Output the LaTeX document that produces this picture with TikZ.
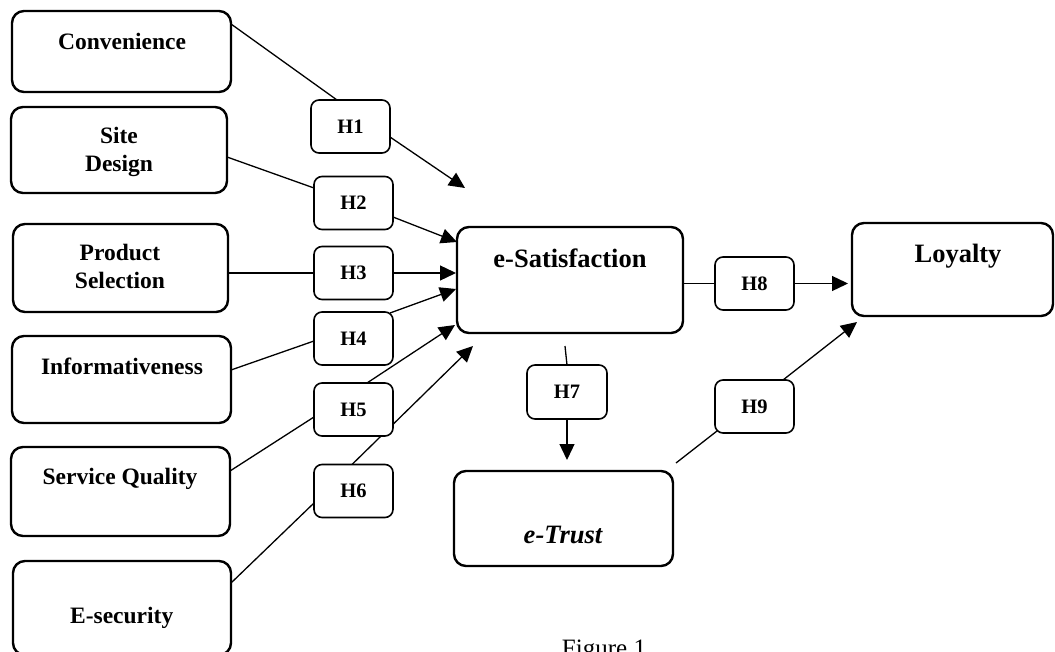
\documentclass[tikz,border=0pt]{standalone}
\usepackage{fontspec}
\setmainfont{Liberation Serif}
\usetikzlibrary{arrows.meta,calc}
\pgfdeclarelayer{bg}
\pgfsetlayers{bg,main}
\begin{document}
\begin{tikzpicture}[x=1pt,y=-1pt,
  bigbox/.style={draw, line width=2.4pt, rounded corners=12pt, fill=white, outer sep=0pt, inner sep=0pt},
  hbox/.style={draw, line width=1.6pt, rounded corners=8pt, fill=white, outer sep=0pt, inner sep=0pt,
    minimum width=79pt, minimum height=53pt, font=\fontsize{20.5}{24}\selectfont\bfseries},
  lab/.style={anchor=base, inner sep=0pt, font=\fontsize{23.5}{28}\selectfont\bfseries},
  mainlab/.style={anchor=base, inner sep=0pt, font=\fontsize{26.5}{31}\selectfont\bfseries},
  conn/.style={line width=1.3pt},
  arr/.style={line width=1.3pt, -{Triangle[length=16pt,width=15pt]}}]
\useasboundingbox (0,0) rectangle (1055,652);

% construct boxes
\node[bigbox, minimum width=219pt, minimum height=81pt] (conv) at (121.5,51.5) {};
\node[bigbox, minimum width=216pt, minimum height=86pt] (site) at (119,150) {};
\node[bigbox, minimum width=215pt, minimum height=88pt] (prod) at (120.5,268) {};
\node[bigbox, minimum width=219pt, minimum height=87pt] (info) at (121.5,379.5) {};
\node[bigbox, minimum width=219pt, minimum height=89pt] (serv) at (120.5,491.5) {};
\node[bigbox, minimum width=218pt, minimum height=94pt] (esec) at (122,608) {};
\node[bigbox, minimum width=226pt, minimum height=106pt] (esat) at (570,280) {};
\node[bigbox, minimum width=201pt, minimum height=93pt] (loy) at (952.5,269.5) {};
\node[bigbox, minimum width=219pt, minimum height=95pt] (etrust) at (563.5,518.5) {};

% labels
\node[lab] (convt) at (122,50) {Convenience};
\node[lab] (sitet) at (119,144) {\begin{tabular}[t]{@{}c@{}}Site\\Design\end{tabular}};
\node[lab] (prodt) at (120,261) {\begin{tabular}[t]{@{}c@{}}Product\\Selection\end{tabular}};
\node[lab] (infot) at (122,374) {Informativeness};
\node[lab] (servt) at (120,484) {Service Quality};
\node[lab] (esect) at (121.7,623) {E-security};
\node[mainlab] (esatt) at (570,268) {e-Satisfaction};
\node[mainlab] (loyt) at (958,263) {Loyalty};
\node[mainlab] (etrustt) at (563,543) {\itshape e-Trust};

% hypothesis boxes
\node[hbox] (h1) at (350.5,126.5) {H1};
\node[hbox] (h2) at (353.5,203) {H2};
\node[hbox] (h3) at (353.5,273) {H3};
\node[hbox] (h4) at (353.5,338.5) {H4};
\node[hbox] (h5) at (353.5,409.5) {H5};
\node[hbox] (h6) at (353.5,491) {H6};
\node[hbox, minimum width=80pt, minimum height=54pt] (h7) at (567,392) {H7};
\node[hbox] (h8) at (754.5,283.5) {H8};
\node[hbox] (h9) at (754.5,406.5) {H9};

% free ends
\coordinate (t1) at (465,188);
\coordinate (t6) at (473,346);
\coordinate (s7) at (565,346);
\coordinate (t7) at (567,460);
\coordinate (s9) at (676,463);

\node[anchor=base, inner sep=0pt, font=\fontsize{25}{30}\selectfont] (fig) at (604,656) {Figure 1};

\begin{pgfonlayer}{bg}
\fill[white] (0,0) rectangle (1055,652);
\draw[conn] ($(conv.north east)+(0,13)$) -- ($(h1.north west)+(26,0)$);
\draw[arr] ($(h1.east)+(0,10.5)$) -- (t1);
\draw[conn] ($(site.east)+(0,7)$) -- ($(h2.west)+(0,-15)$);
\draw[arr] ($(h2.east)+(0,14)$) -- ($(esat.north west)+(0,15)$);
\draw[conn] (prod.east |- h3.west) -- (h3.west);
\draw[arr] (h3.east) -- ($(esat.west |- h3.east)+(-1,0)$);
\draw[conn] ($(info.east)+(0,-9.5)$) -- ($(h4.west)+(0,2.5)$);
\draw[arr] ($(h4.north east)+(-3,1)$) -- ($(esat.west)+(-1,9)$);
\draw[conn] ($(serv.east)+(0,-20.5)$) -- ($(h5.west)+(0,7.5)$);
\draw[arr] ($(h5.north)+(13.5,0)$) -- ($(esat.south west)+(-2,-8)$);
\draw[conn] ($(esec.north east)+(0,22)$) -- ($(h6.west)+(0,12)$);
\draw[arr] ($(h6.north)+(-1.5,0)$) -- (t6);
\draw[conn] (esat.east |- h8.west) -- (h8.west);
\draw[arr] (h8.east) -- ($(loy.west |- h8.east)+(-4,0)$);
\draw[conn] (s7) -- (h7.north);
\draw[arr] (h7.south) -- (t7);
\draw[conn] (s9) -- ($(h9.south west)+(2,-2)$);
\draw[arr] ($(h9.north east)+(-11,0)$) -- ($(loy.south west)+(5,6)$);
\end{pgfonlayer}
\end{tikzpicture}
\end{document}
